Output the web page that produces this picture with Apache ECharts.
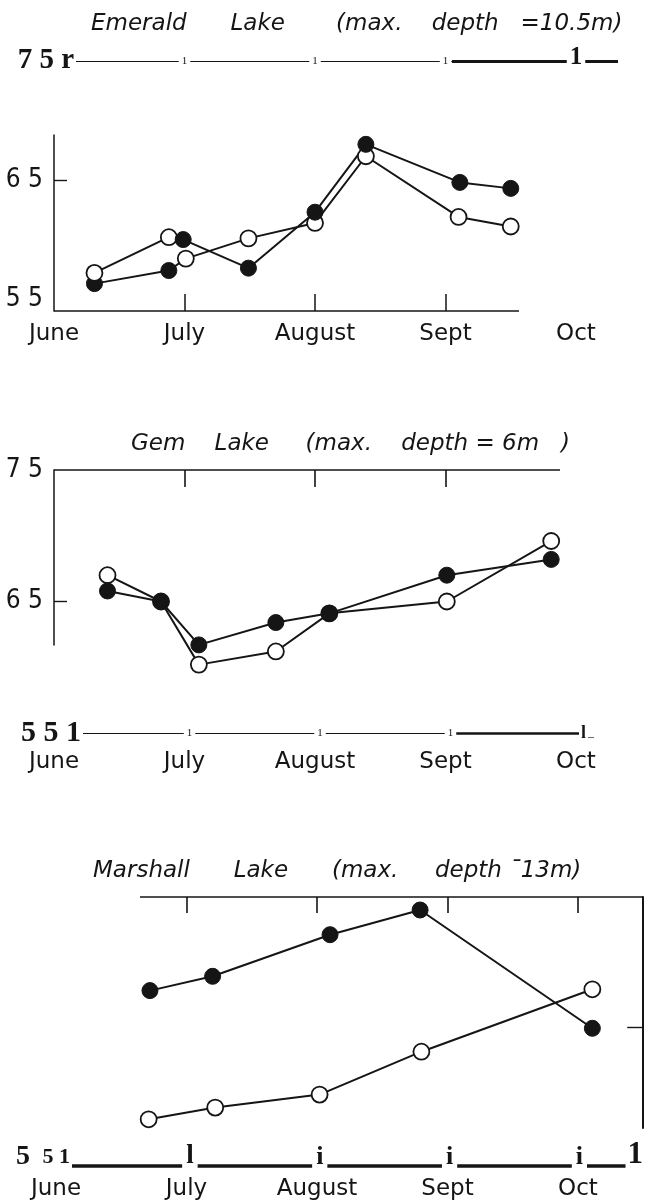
<!DOCTYPE html>
<html>
<head>
<meta charset="utf-8">
<script src="https://cdn.jsdelivr.net/npm/echarts@6/dist/echarts.min.js"></script>
<style>html,body{margin:0;padding:0;background:#fff}#c{width:648px;height:1203px}</style>
</head>
<body>
<div id="c"></div>
<script>
// ---------------- DATA ----------------
const MONTHS = ['June', 'July', 'August', 'Sept', 'Oct'];

// Emerald Lake: two traced lines, with marker type per point (f = filled, o = open)
const EMERALD_A_MONTH = [0.31, 0.88, 0.99, 1.49, 2.00, 2.39, 3.11, 3.50];
const EMERALD_A_TEMP  = [57.2, 60.2, 60.0, 57.6, 62.3, 68.0, 64.8, 64.3];
const EMERALD_A_MARK  = ['o', 'o', 'f', 'f', 'f', 'f', 'f', 'f'];
const EMERALD_B_MONTH = [0.31, 0.88, 1.01, 1.49, 2.00, 2.39, 3.10, 3.50];
const EMERALD_B_TEMP  = [56.3, 57.4, 58.4, 60.1, 61.4, 67.0, 61.9, 61.1];
const EMERALD_B_MARK  = ['f', 'f', 'o', 'o', 'o', 'o', 'o', 'o'];

// Gem Lake
const GEM_MONTH  = [0.41, 0.82, 1.11, 1.70, 2.11, 3.01, 3.81];
const GEM_OPEN   = [67.0, 65.0, 60.2, 61.2, 64.1, 65.0, 69.6];
const GEM_FILLED = [65.8, 65.0, 61.7, 63.4, 64.1, 67.0, 68.2];

// Marshall Lake
const MARSHALL_FILLED_MONTH = [0.72, 1.20, 2.10, 2.79, 4.11];
const MARSHALL_FILLED       = [67.8, 68.9, 72.1, 74.0, 64.9];
const MARSHALL_OPEN_MONTH   = [0.71, 1.22, 2.02, 2.80, 4.11];
const MARSHALL_OPEN         = [57.9, 58.8, 59.8, 63.1, 67.9];

// Tick label texts (as printed)
const EMERALD_Y_VALUES = [55, 65];
const EMERALD_Y_TEXTS  = ['5 5', '6 5'];
const EMERALD_TOP_TEXT = '7 5 r';
const GEM_Y_VALUES = [65, 75];
const GEM_Y_TEXTS  = ['6 5', '7 5'];
const GEM_BOTTOM_TEXT = '5 5 1';
const TITLES = [
  'Emerald      Lake       (max.    depth   =10.5m)',
  'Gem    Lake     (max.    depth = 6m   )',
  'Marshall      Lake      (max.     depth \u00AF13m)'
];

// ---------------- STYLE / LAYOUT ----------------
const INK = '#151515';
const MONTH_PX = 130.5;
const SANS = "'DejaVu Sans', sans-serif";
const NARROW = "'Liberation Sans Narrow','DejaVu Sans Condensed','Liberation Sans',sans-serif";
const SERIF = "'Liberation Serif','DejaVu Serif',serif";
const OPEN = {color: '#fff', borderColor: INK, borderWidth: 1.8};
const FILLED = {color: INK, borderColor: INK, borderWidth: 1};
const MONTH_VALUES = MONTHS.map((_, i) => i);

const RICH = {
  s: {fontFamily: SERIF, fontSize: 11, color: INK, backgroundColor: '#fff', padding: [0, 3]},
  b: {fontFamily: SERIF, fontWeight: 'bold', fontSize: 25, color: INK, backgroundColor: '#fff', padding: [0, 3]},
  l: {fontFamily: SERIF, fontWeight: 'bold', fontSize: 18, color: INK, backgroundColor: '#fff', padding: [0, 2]},
  u: {fontFamily: SERIF, fontSize: 12, color: INK, backgroundColor: '#fff', padding: [0, 2, 0, 0]},
  L: {fontFamily: SERIF, fontWeight: 'bold', fontSize: 27, color: INK, backgroundColor: '#fff', padding: [0, 4]},
  i: {fontFamily: SERIF, fontWeight: 'bold', fontSize: 26, color: INK, backgroundColor: '#fff', padding: [0, 4]},
  B: {fontFamily: SERIF, fontWeight: 'bold', fontSize: 31, color: INK, backgroundColor: '#fff', padding: [0, 2]}
};

const grids = [], xAxis = [], yAxis = [], series = [];

function hRuler(o) {
  const pos = o.pos || 'bottom';
  const gi = grids.push({left: o.left, top: pos === 'top' ? o.y : o.y - 1, width: o.right - o.left, height: 1}) - 1;
  const labels = o.labels || [];
  xAxis.push({
    gridIndex: gi, type: 'value', position: pos,
    min: (o.left - o.origin) / MONTH_PX, max: (o.right - o.origin) / MONTH_PX,
    axisLine: {show: true, onZero: false, lineStyle: {color: INK, width: o.width, cap: 'butt'}},
    axisTick: o.ticks ? {show: true, inside: true, length: o.tickLen, customValues: o.ticks,
      lineStyle: {color: INK, width: 1.6}} : {show: false},
    axisLabel: labels.length ? {
      show: true, customValues: labels.map(l => l.v),
      formatter: (val) => {
        let best = labels[0];
        labels.forEach(l => { if (Math.abs(l.v - val) < Math.abs(best.v - val)) best = l; });
        return best.t;
      },
      margin: o.margin || 0, verticalAlign: o.va || 'middle', rich: RICH
    } : {show: false},
    splitLine: {show: false}
  });
  yAxis.push({gridIndex: gi, type: 'value', show: false, min: 0, max: 1});
}

function vRuler(o) {
  const gi = grids.push({left: o.x, top: o.top, width: 1, height: o.bottom - o.top}) - 1;
  xAxis.push({gridIndex: gi, type: 'value', show: false, min: 0, max: 1});
  yAxis.push({gridIndex: gi, type: 'value', position: 'left', min: 0, max: 1,
    axisLine: {show: true, onZero: false, lineStyle: {color: INK, width: o.width}},
    axisTick: {show: false}, axisLabel: {show: false}, splitLine: {show: false}});
}

function mainGrid(p) {
  const gi = grids.push({left: p.left, top: p.top, width: p.maxMonth * MONTH_PX, height: p.height}) - 1;
  const xi = xAxis.push({
    gridIndex: gi, type: 'value', min: 0, max: p.maxMonth,
    axisLine: {show: false, onZero: false},
    axisTick: p.bottomTicks ? {show: true, inside: true, length: 17, customValues: p.bottomTicks,
      lineStyle: {color: INK, width: 1.5}} : {show: false},
    axisLabel: {show: true, customValues: MONTH_VALUES, formatter: v => MONTHS[Math.round(v)],
      margin: p.monthMargin, color: INK, fontFamily: SANS, fontSize: 23},
    splitLine: {show: false}
  }) - 1;
  return {gi, xi};
}

function yAx(gi, o) {
  return yAxis.push(Object.assign({
    gridIndex: gi, type: 'value', min: o.min, max: o.max, position: o.pos || 'left',
    axisLine: {show: false, onZero: false},
    axisTick: o.ticks ? {show: true, inside: true, length: o.tickLen || 13, customValues: o.ticks,
      lineStyle: {color: INK, width: 1.4}} : {show: false},
    axisLabel: o.labelValues ? Object.assign({show: true, customValues: o.labelValues,
      formatter: v => o.labelTexts[o.labelValues.indexOf(Math.round(v))], margin: o.margin, color: INK}, o.labelStyle) : {show: false},
    splitLine: {show: false}
  })) - 1;
}

function lineSeries(xi, yi, months, temps, marks) {
  series.push({
    type: 'line', xAxisIndex: xi, yAxisIndex: yi,
    data: months.map((m, i) => ({value: [m, temps[i]], itemStyle: marks[i] === 'f' ? FILLED : OPEN})),
    symbol: 'circle', symbolSize: 16, showAllSymbol: true, clip: false,
    lineStyle: {color: INK, width: 2}, itemStyle: OPEN,
    silent: true, animation: false, emphasis: {disabled: true}
  });
}

// ---------------- PANEL 1: Emerald ----------------
{
  const {gi, xi} = mainGrid({left: 54, top: 61, height: 250, maxMonth: 4, monthMargin: 12, bottomTicks: [1, 2, 3]});
  const yi = yAx(gi, {min: 54, max: 75, ticks: [65], tickLen: 13, labelValues: EMERALD_Y_VALUES,
    labelTexts: EMERALD_Y_TEXTS, margin: 11, labelStyle: {fontFamily: NARROW, fontSize: 26}});
  yAx(gi, {min: 54, max: 75, labelValues: [75], labelTexts: [EMERALD_TOP_TEXT], margin: -20,
    labelStyle: {fontFamily: SERIF, fontWeight: 'bold', fontSize: 29, padding: [0, 0, 8, 0]}});
  hRuler({left: 54, right: 519, y: 311, origin: 54, width: 1.6});
  vRuler({x: 54, top: 135, bottom: 311, width: 1.5});
  hRuler({left: 76, right: 452, y: 61, origin: 54, width: 1.2,
    labels: [{v: 1, t: '{s|1}'}, {v: 2, t: '{s|1}'}, {v: 3, t: '{s|1}'}]});
  hRuler({left: 452, right: 618, y: 61, origin: 54, width: 3, va: 'bottom', margin: 9,
    labels: [{v: 4, t: '{b|1}'}]});
  lineSeries(xi, yi, EMERALD_B_MONTH, EMERALD_B_TEMP, EMERALD_B_MARK);
  lineSeries(xi, yi, EMERALD_A_MONTH, EMERALD_A_TEMP, EMERALD_A_MARK);
}

// ---------------- PANEL 2: Gem ----------------
{
  const {gi, xi} = mainGrid({left: 54, top: 470, height: 263, maxMonth: 4, monthMargin: 18});
  const yi = yAx(gi, {min: 55, max: 75, ticks: [65], tickLen: 13, labelValues: GEM_Y_VALUES,
    labelTexts: GEM_Y_TEXTS, margin: 11, labelStyle: {fontFamily: NARROW, fontSize: 26}});
  yAx(gi, {min: 55, max: 75, labelValues: [55], labelTexts: [GEM_BOTTOM_TEXT], margin: -27,
    labelStyle: {fontFamily: SERIF, fontWeight: 'bold', fontSize: 30, padding: [0, 0, 14, 0]}});
  hRuler({left: 54, right: 560, y: 470, origin: 54, width: 1.7, pos: 'top', ticks: [1, 2, 3], tickLen: 17});
  vRuler({x: 54, top: 470, bottom: 645, width: 1.5});
  hRuler({left: 83, right: 455, y: 733, origin: 59, width: 1.2,
    labels: [{v: 1, t: '{s|1}'}, {v: 2, t: '{s|1}'}, {v: 3, t: '{s|1}'}]});
  hRuler({left: 455, right: 596, y: 733, origin: 59, width: 2.6,
    labels: [{v: 4.05, t: '{l|l}{u|_}'}]});
  lineSeries(xi, yi, GEM_MONTH, GEM_OPEN, GEM_OPEN.map(() => 'o'));
  lineSeries(xi, yi, GEM_MONTH, GEM_FILLED, GEM_FILLED.map(() => 'f'));
}

// ---------------- PANEL 3: Marshall ----------------
{
  const {gi, xi} = mainGrid({left: 56, top: 897, height: 260, maxMonth: 4.5, monthMargin: 21});
  const yi = yAx(gi, {min: 55, max: 75, labelValues: [55], labelTexts: ['{a|5} {c|5 1}'], margin: -14,
    labelStyle: {fontFamily: SERIF, fontWeight: 'bold', fontSize: 22, rich: {
      a: {fontFamily: SERIF, fontWeight: 'bold', fontSize: 28, color: INK},
      c: {fontFamily: SERIF, fontWeight: 'bold', fontSize: 22, color: INK, padding: [0, 0, 0, 7]}}}});
  yAx(gi, {min: 55, max: 75, pos: 'right', ticks: [65], tickLen: 16});
  hRuler({left: 140, right: 643, y: 897, origin: 56, width: 1.7, pos: 'top', ticks: [1, 2, 3, 4], tickLen: 16});
  vRuler({x: 643, top: 897, bottom: 1128, width: 2});
  hRuler({left: 72, right: 645, y: 1166, origin: 60, width: 3.5, va: 'bottom', margin: 4,
    labels: [{v: 1, t: '{L|l}'}, {v: 2, t: '{i|i}'}, {v: 3, t: '{i|i}'}, {v: 4, t: '{i|i}'}, {v: 4.43, t: '{B|1}'}]});
  lineSeries(xi, yi, MARSHALL_OPEN_MONTH, MARSHALL_OPEN, MARSHALL_OPEN.map(() => 'o'));
  lineSeries(xi, yi, MARSHALL_FILLED_MONTH, MARSHALL_FILLED, MARSHALL_FILLED.map(() => 'f'));
}

const titleStyle = {fontFamily: SANS, fontStyle: 'italic', fontWeight: 'normal', fontSize: 23, color: INK};
const option = {
  backgroundColor: '#fff',
  animation: false,
  title: [
    {text: TITLES[0], left: 91, top: 13, padding: 0, textStyle: titleStyle},
    {text: TITLES[1], left: 131, top: 433, padding: 0, textStyle: titleStyle},
    {text: TITLES[2], left: 93, top: 860, padding: 0, textStyle: titleStyle}
  ],
  grid: grids, xAxis: xAxis, yAxis: yAxis, series: series
};
const chart = echarts.init(document.getElementById('c'), null, {renderer: 'canvas'});
chart.setOption(option);
</script>
</body>
</html>
